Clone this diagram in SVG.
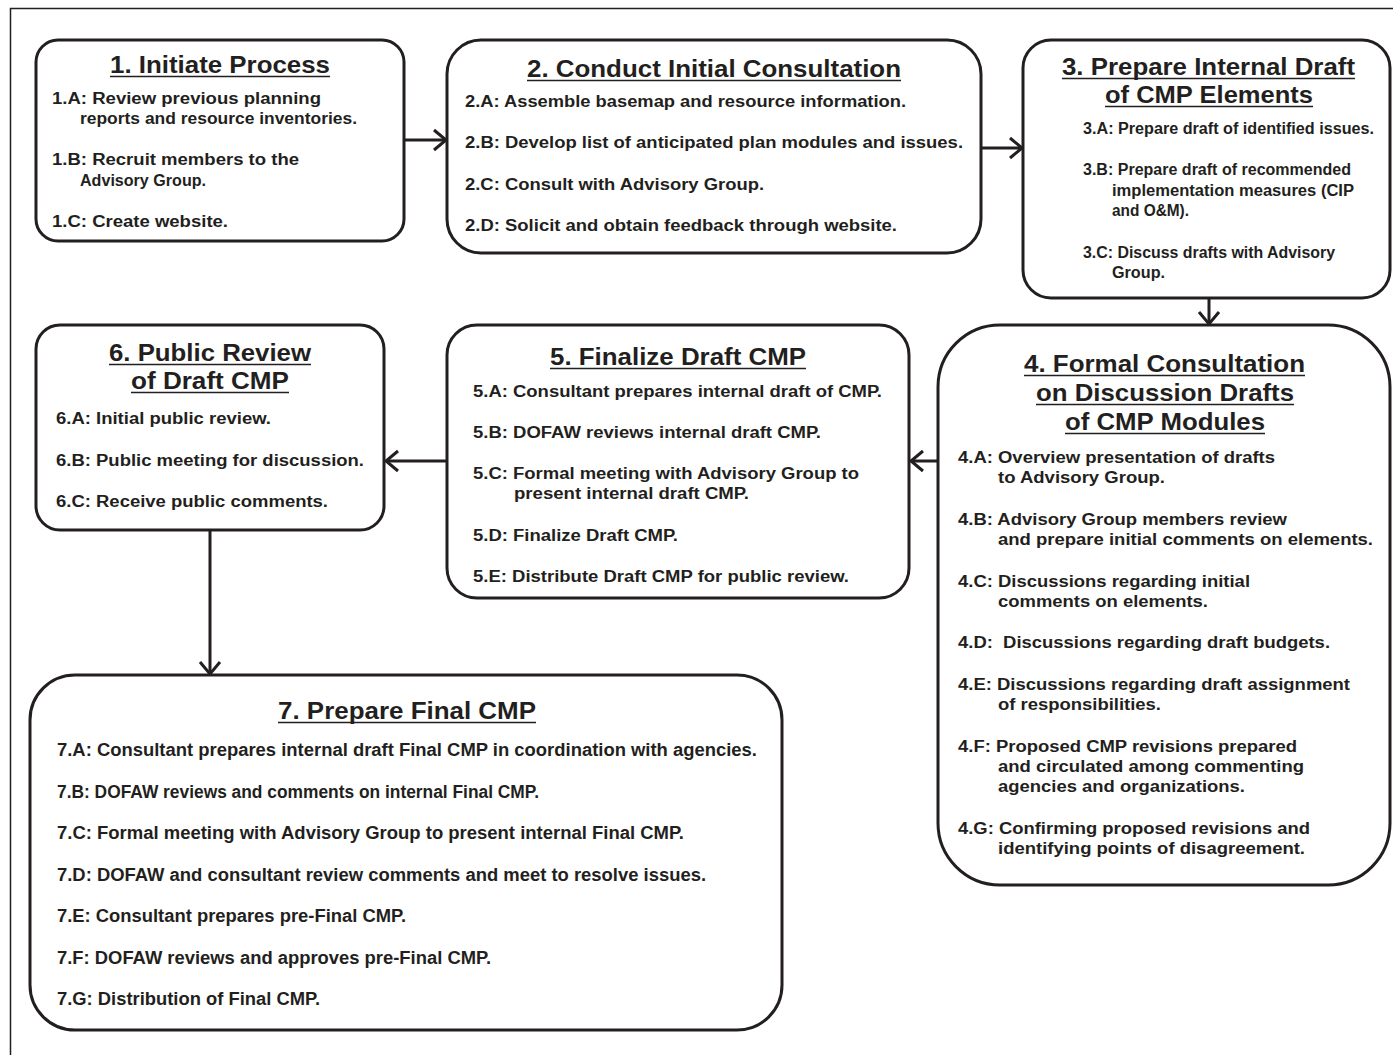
<svg xmlns="http://www.w3.org/2000/svg" width="1393" height="1055" viewBox="0 0 1393 1055">
<defs>
<style>
.box{fill:#fff;stroke:#231f20;stroke-width:3}
.t{font-family:"Liberation Sans",Arial,sans-serif;font-weight:bold;font-size:24px;fill:#231f20;text-anchor:start}
.i{font-family:"Liberation Sans",Arial,sans-serif;font-weight:bold;font-size:16px;fill:#231f20}
.n{font-size:17.5px}
.u{stroke:#231f20;stroke-width:1.6}
.c{fill:none;stroke:#231f20;stroke-width:3}
</style>
<marker id="ah" markerUnits="userSpaceOnUse" markerWidth="18" markerHeight="26" refX="15" refY="13" orient="auto">
<path d="M3,3 L15,13 L3,23" fill="none" stroke="#231f20" stroke-width="3"/>
</marker>
</defs>
<rect width="1393" height="1055" fill="#fff"/>
<path d="M10.5,1055 V8.5 H1393" fill="none" stroke="#231f20" stroke-width="1.5"/>

<g id="connectors">
<line class="c" x1="404" y1="140" x2="446" y2="140" marker-end="url(#ah)"/>
<line class="c" x1="981" y1="148" x2="1022" y2="148" marker-end="url(#ah)"/>
<line class="c" x1="1209" y1="298" x2="1209" y2="324" marker-end="url(#ah)"/>
<line class="c" x1="938" y1="461" x2="911" y2="461" marker-end="url(#ah)"/>
<line class="c" x1="447" y1="461" x2="386" y2="461" marker-end="url(#ah)"/>
<line class="c" x1="210" y1="530" x2="210" y2="674" marker-end="url(#ah)"/>
</g>

<g id="node1">
<rect class="box" x="36" y="40" width="368" height="201" rx="22"/>
<text class="t" x="110" y="73" textLength="220" lengthAdjust="spacingAndGlyphs">1. Initiate Process</text>
<line class="u" x1="110" y1="76.5" x2="330" y2="76.5"/>
<text class="i" x="52" y="104" textLength="269" lengthAdjust="spacingAndGlyphs">1.A: Review previous planning</text>
<text class="i" x="80" y="124" textLength="277" lengthAdjust="spacingAndGlyphs">reports and resource inventories.</text>
<text class="i" x="52" y="165" textLength="247" lengthAdjust="spacingAndGlyphs">1.B: Recruit members to the</text>
<text class="i" x="80" y="186" textLength="126" lengthAdjust="spacingAndGlyphs">Advisory Group.</text>
<text class="i" x="52" y="227" textLength="176" lengthAdjust="spacingAndGlyphs">1.C: Create website.</text>
</g>

<g id="node2">
<rect class="box" x="447" y="40" width="534" height="213" rx="34"/>
<text class="t" x="527" y="77" textLength="374" lengthAdjust="spacingAndGlyphs">2. Conduct Initial Consultation</text>
<line class="u" x1="527" y1="80.5" x2="901" y2="80.5"/>
<text class="i" x="465" y="107" textLength="441" lengthAdjust="spacingAndGlyphs">2.A: Assemble basemap and resource information.</text>
<text class="i" x="465" y="148" textLength="498" lengthAdjust="spacingAndGlyphs">2.B: Develop list of anticipated plan modules and issues.</text>
<text class="i" x="465" y="190" textLength="299" lengthAdjust="spacingAndGlyphs">2.C: Consult with Advisory Group.</text>
<text class="i" x="465" y="231" textLength="432" lengthAdjust="spacingAndGlyphs">2.D: Solicit and obtain feedback through website.</text>
</g>

<g id="node3">
<rect class="box" x="1023" y="40" width="367" height="258" rx="28"/>
<text class="t" x="1062" y="75" textLength="293" lengthAdjust="spacingAndGlyphs">3. Prepare Internal Draft</text>
<line class="u" x1="1062" y1="78.5" x2="1355" y2="78.5"/>
<text class="t" x="1105" y="103" textLength="208" lengthAdjust="spacingAndGlyphs">of CMP Elements</text>
<line class="u" x1="1105" y1="106.5" x2="1313" y2="106.5"/>
<text class="i" x="1083" y="134" textLength="291" lengthAdjust="spacingAndGlyphs">3.A: Prepare draft of identified issues.</text>
<text class="i" x="1083" y="175" textLength="268" lengthAdjust="spacingAndGlyphs">3.B: Prepare draft of recommended</text>
<text class="i" x="1112" y="196" textLength="242" lengthAdjust="spacingAndGlyphs">implementation measures (CIP</text>
<text class="i" x="1112" y="216" textLength="77" lengthAdjust="spacingAndGlyphs">and O&amp;M).</text>
<text class="i" x="1083" y="258" textLength="252" lengthAdjust="spacingAndGlyphs">3.C: Discuss drafts with Advisory</text>
<text class="i" x="1112" y="278" textLength="53" lengthAdjust="spacingAndGlyphs">Group.</text>
</g>

<g id="node4">
<rect class="box" x="938" y="325" width="452" height="560" rx="62"/>
<text class="t" x="1024" y="372" textLength="281" lengthAdjust="spacingAndGlyphs">4. Formal Consultation</text>
<line class="u" x1="1024" y1="375.5" x2="1305" y2="375.5"/>
<text class="t" x="1036" y="401" textLength="258" lengthAdjust="spacingAndGlyphs">on Discussion Drafts</text>
<line class="u" x1="1036" y1="404.5" x2="1294" y2="404.5"/>
<text class="t" x="1065" y="430" textLength="200" lengthAdjust="spacingAndGlyphs">of CMP Modules</text>
<line class="u" x1="1065" y1="433.5" x2="1265" y2="433.5"/>
<text class="i" x="958" y="463" textLength="317" lengthAdjust="spacingAndGlyphs">4.A: Overview presentation of drafts</text>
<text class="i" x="998" y="483" textLength="167" lengthAdjust="spacingAndGlyphs">to Advisory Group.</text>
<text class="i" x="958" y="525" textLength="329" lengthAdjust="spacingAndGlyphs">4.B: Advisory Group members review</text>
<text class="i" x="998" y="545" textLength="375" lengthAdjust="spacingAndGlyphs">and prepare initial comments on elements.</text>
<text class="i" x="958" y="587" textLength="292" lengthAdjust="spacingAndGlyphs">4.C: Discussions regarding initial</text>
<text class="i" x="998" y="607" textLength="210" lengthAdjust="spacingAndGlyphs">comments on elements.</text>
<text class="i" x="958" y="648" textLength="372" lengthAdjust="spacingAndGlyphs" xml:space="preserve">4.D:  Discussions regarding draft budgets.</text>
<text class="i" x="958" y="690" textLength="392" lengthAdjust="spacingAndGlyphs">4.E: Discussions regarding draft assignment</text>
<text class="i" x="998" y="710" textLength="163" lengthAdjust="spacingAndGlyphs">of responsibilities.</text>
<text class="i" x="958" y="752" textLength="339" lengthAdjust="spacingAndGlyphs">4.F: Proposed CMP revisions prepared</text>
<text class="i" x="998" y="772" textLength="306" lengthAdjust="spacingAndGlyphs">and circulated among commenting</text>
<text class="i" x="998" y="792" textLength="247" lengthAdjust="spacingAndGlyphs">agencies and organizations.</text>
<text class="i" x="958" y="834" textLength="352" lengthAdjust="spacingAndGlyphs">4.G: Confirming proposed revisions and</text>
<text class="i" x="998" y="854" textLength="307" lengthAdjust="spacingAndGlyphs">identifying points of disagreement.</text>
</g>

<g id="node5">
<rect class="box" x="447" y="325" width="462" height="273" rx="30"/>
<text class="t" x="550" y="365" textLength="256" lengthAdjust="spacingAndGlyphs">5. Finalize Draft CMP</text>
<line class="u" x1="550" y1="368.5" x2="806" y2="368.5"/>
<text class="i" x="473" y="397" textLength="409" lengthAdjust="spacingAndGlyphs">5.A: Consultant prepares internal draft of CMP.</text>
<text class="i" x="473" y="438" textLength="348" lengthAdjust="spacingAndGlyphs">5.B: DOFAW reviews internal draft CMP.</text>
<text class="i" x="473" y="479" textLength="386" lengthAdjust="spacingAndGlyphs">5.C: Formal meeting with Advisory Group to</text>
<text class="i" x="514" y="499" textLength="235" lengthAdjust="spacingAndGlyphs">present internal draft CMP.</text>
<text class="i" x="473" y="541" textLength="205" lengthAdjust="spacingAndGlyphs">5.D: Finalize Draft CMP.</text>
<text class="i" x="473" y="582" textLength="376" lengthAdjust="spacingAndGlyphs">5.E: Distribute Draft CMP for public review.</text>
</g>

<g id="node6">
<rect class="box" x="36" y="325" width="348" height="205" rx="24"/>
<text class="t" x="109" y="361" textLength="202" lengthAdjust="spacingAndGlyphs">6. Public Review</text>
<line class="u" x1="109" y1="364.5" x2="311" y2="364.5"/>
<text class="t" x="131" y="389" textLength="158" lengthAdjust="spacingAndGlyphs">of Draft CMP</text>
<line class="u" x1="131" y1="392.5" x2="289" y2="392.5"/>
<text class="i" x="56" y="424" textLength="215" lengthAdjust="spacingAndGlyphs">6.A: Initial public review.</text>
<text class="i" x="56" y="466" textLength="308" lengthAdjust="spacingAndGlyphs">6.B: Public meeting for discussion.</text>
<text class="i" x="56" y="507" textLength="272" lengthAdjust="spacingAndGlyphs">6.C: Receive public comments.</text>
</g>

<g id="node7">
<rect class="box" x="30" y="675" width="752" height="355" rx="45"/>
<text class="t" x="278" y="719" textLength="258" lengthAdjust="spacingAndGlyphs">7. Prepare Final CMP</text>
<line class="u" x1="278" y1="722.5" x2="536" y2="722.5"/>
<text class="i n" x="57" y="756" textLength="700" lengthAdjust="spacingAndGlyphs">7.A: Consultant prepares internal draft Final CMP in coordination with agencies.</text>
<text class="i n" x="57" y="798" textLength="482" lengthAdjust="spacingAndGlyphs">7.B: DOFAW reviews and comments on internal Final CMP.</text>
<text class="i n" x="57" y="839" textLength="627" lengthAdjust="spacingAndGlyphs">7.C: Formal meeting with Advisory Group to present internal Final CMP.</text>
<text class="i n" x="57" y="881" textLength="649" lengthAdjust="spacingAndGlyphs">7.D: DOFAW and consultant review comments and meet to resolve issues.</text>
<text class="i n" x="57" y="922" textLength="349" lengthAdjust="spacingAndGlyphs">7.E: Consultant prepares pre-Final CMP.</text>
<text class="i n" x="57" y="964" textLength="434" lengthAdjust="spacingAndGlyphs">7.F: DOFAW reviews and approves pre-Final CMP.</text>
<text class="i n" x="57" y="1005" textLength="263" lengthAdjust="spacingAndGlyphs">7.G: Distribution of Final CMP.</text>
</g>
</svg>
